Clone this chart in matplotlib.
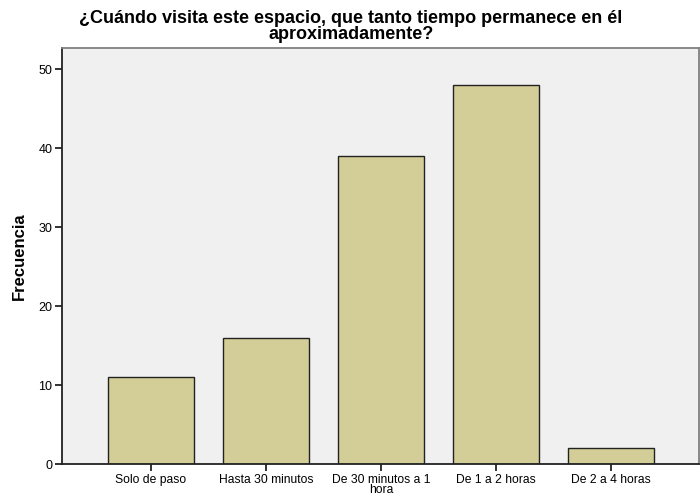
import matplotlib
matplotlib.use("Agg")
import matplotlib.pyplot as plt

categories = ["Solo de paso", "Hasta 30 minutos", "De 30 minutos a 1\nhora",
              "De 1 a 2 horas", "De 2 a 4 horas"]
values = [11, 16, 39, 48, 2]
yticks = [0, 10, 20, 30, 40, 50]
title_lines = ["¿Cuándo visita este espacio, que tanto tiempo permanece en él",
               "aproximadamente?"]

plt.rcParams['font.family'] = ['Liberation Sans', 'DejaVu Sans']

fig = plt.figure(figsize=(7.0, 4.98), dpi=100)
ax = fig.add_axes([62/700, 34/498, (699-62)/700, (464-48)/498])
ax.set_facecolor('#F0F0F0')

x = list(range(len(categories)))
ax.bar(x, values, width=0.75, color='#D3CE97', edgecolor='#222222', linewidth=1.0, zorder=2)

ax.set_xlim(-0.774, 4.765)
ax.set_ylim(0, 52.66)
ax.set_xticks(x)
ax.set_xticklabels(categories, fontsize=8.7, linespacing=0.85)
ax.set_yticks(yticks)
ax.set_yticklabels([str(v) for v in yticks], fontsize=9)
ax.tick_params(axis='both', direction='out', length=5, width=1.3, color='#222222', pad=2)

for s in ['left', 'bottom']:
    ax.spines[s].set_color('#222222')
    ax.spines[s].set_linewidth(1.3)
for s in ['top', 'right']:
    ax.spines[s].set_color('#808080')
    ax.spines[s].set_linewidth(1.3)

ax.set_ylabel('Frecuencia', fontsize=12, fontweight='bold', labelpad=8)

fig.text(351/700, 1 - 23/498, title_lines[0], ha='center', va='baseline',
         fontsize=13, fontweight='bold')
fig.text(351/700, 1 - 39/498, title_lines[1], ha='center', va='baseline',
         fontsize=13, fontweight='bold')

fig.savefig('out.png', dpi=100)
